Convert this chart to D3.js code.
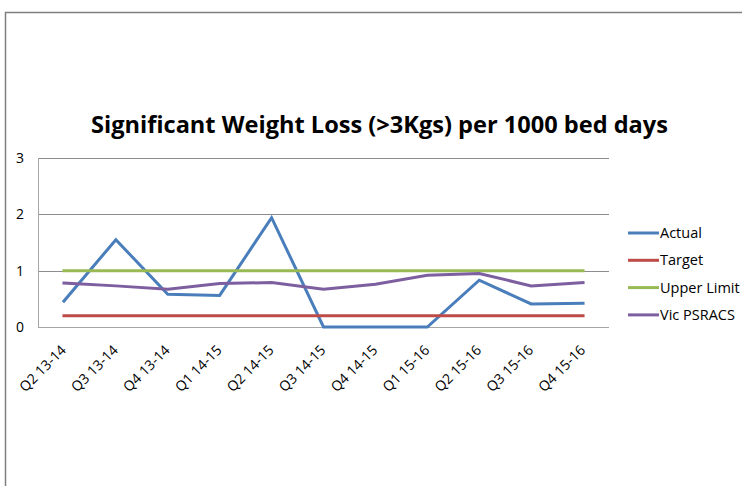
<!DOCTYPE html>
<html>
<head>
<meta charset="utf-8">
<script src="https://cdn.jsdelivr.net/npm/d3@7"></script>
<style>
  html, body { margin: 0; padding: 0; background: #fff; }
  svg { display: block; }
  text { font-family: "Open Sans", "Noto Sans", sans-serif; fill: #000; }
</style>
</head>
<body>
<svg id="chart" width="742" height="486"></svg>
<script>
// Quarterly reporting periods
const quarters = ["Q2 13-14", "Q3 13-14", "Q4 13-14", "Q1 14-15", "Q2 14-15", "Q3 14-15",
                  "Q4 14-15", "Q1 15-16", "Q2 15-16", "Q3 15-16", "Q4 15-16"];

// Rates per 1000 bed days
const actual      = [0.46, 1.55, 0.58, 0.56, 1.94, 0.0, 0.0, 0.0, 0.83, 0.41, 0.42];
const target      = [0.2, 0.2, 0.2, 0.2, 0.2, 0.2, 0.2, 0.2, 0.2, 0.2, 0.2];
const upperLimit  = [1, 1, 1, 1, 1, 1, 1, 1, 1, 1, 1];
const vicPsracs   = [0.78, 0.73, 0.67, 0.77, 0.79, 0.67, 0.76, 0.92, 0.95, 0.73, 0.79];

const yTicks = [0, 1, 2, 3];

const series = [
  { name: "Actual",      values: actual,     color: "#4a7ebb" },
  { name: "Target",      values: target,     color: "#be4b48" },
  { name: "Upper Limit", values: upperLimit, color: "#98b954" },
  { name: "Vic PSRACS",  values: vicPsracs,  color: "#7d5fa0" }
];

const svg = d3.select("#chart");

// Outer frame (top and left edges)
svg.append("path")
  .attr("d", "M5.5,486 V12.5 H742")
  .attr("fill", "none")
  .attr("stroke", "#7f7f7f")
  .attr("stroke-width", 1.5);

const plot = { left: 38, right: 609, top: 158, bottom: 327 };

const x = d3.scaleBand().domain(quarters).range([plot.left, plot.right]);
const y = d3.scaleLinear().domain([0, 3]).range([plot.bottom, plot.top]);
const cx = q => x(q) + x.bandwidth() / 2;

// Horizontal gridlines
svg.append("g")
  .selectAll("line")
  .data(yTicks)
  .join("line")
  .attr("x1", plot.left).attr("x2", plot.right)
  .attr("y1", d => Math.round(y(d)) + 0.5).attr("y2", d => Math.round(y(d)) + 0.5)
  .attr("stroke", d => d === 0 ? "#a6a6a6" : "#8c8c8c")
  .attr("stroke-width", 1);

// Left plot-area edge
svg.append("line")
  .attr("x1", plot.left + 0.5).attr("x2", plot.left + 0.5)
  .attr("y1", plot.top).attr("y2", plot.bottom)
  .attr("stroke", "#a6a6a6");

// Y axis labels
const yAxis = d3.axisLeft(y).tickValues(yTicks).tickFormat(d3.format("d")).tickSize(0).tickPadding(0);
const yg = svg.append("g").attr("transform", `translate(${plot.left - 14},0)`).call(yAxis);
yg.select(".domain").remove();
yg.selectAll("text").style("font-size", "14px").attr("font-family", null);

// X axis labels, rotated
const xAxis = d3.axisBottom(x).tickSize(0).tickPadding(0);
const xg = svg.append("g").attr("transform", `translate(0,${plot.bottom})`).call(xAxis);
xg.select(".domain").remove();
xg.selectAll("text")
  .style("font-size", "14px")
  .attr("font-family", null)
  .attr("text-anchor", "end")
  .attr("dy", null)
  .attr("y", 0)
  .attr("transform", "translate(3,24) rotate(-45)");

// Series lines
const line = d3.line()
  .x((d, i) => cx(quarters[i]))
  .y(d => y(d));

svg.append("g")
  .selectAll("path")
  .data(series)
  .join("path")
  .attr("d", s => line(s.values))
  .attr("fill", "none")
  .attr("stroke", s => s.color)
  .attr("stroke-width", 3)
  .attr("stroke-linejoin", "miter")
  .attr("stroke-linecap", "square");

// Legend
const legend = svg.append("g")
  .selectAll("g")
  .data(series)
  .join("g")
  .attr("transform", (s, i) => `translate(628,${233 + i * 27.3})`);

legend.append("line")
  .attr("x1", 0).attr("x2", 31)
  .attr("stroke", s => s.color)
  .attr("stroke-width", 3);

legend.append("text")
  .attr("x", 32)
  .attr("y", 5)
  .style("font-size", "14.5px")
  .text(s => s.name);

// Title
svg.append("text")
  .attr("x", 379.5)
  .attr("y", 133)
  .attr("text-anchor", "middle")
  .attr("textLength", 577)
  .attr("lengthAdjust", "spacingAndGlyphs")
  .style("font-size", "22.5px")
  .style("font-weight", "bold")
  .text("Significant Weight Loss (>3Kgs) per 1000 bed days");
</script>
</body>
</html>
